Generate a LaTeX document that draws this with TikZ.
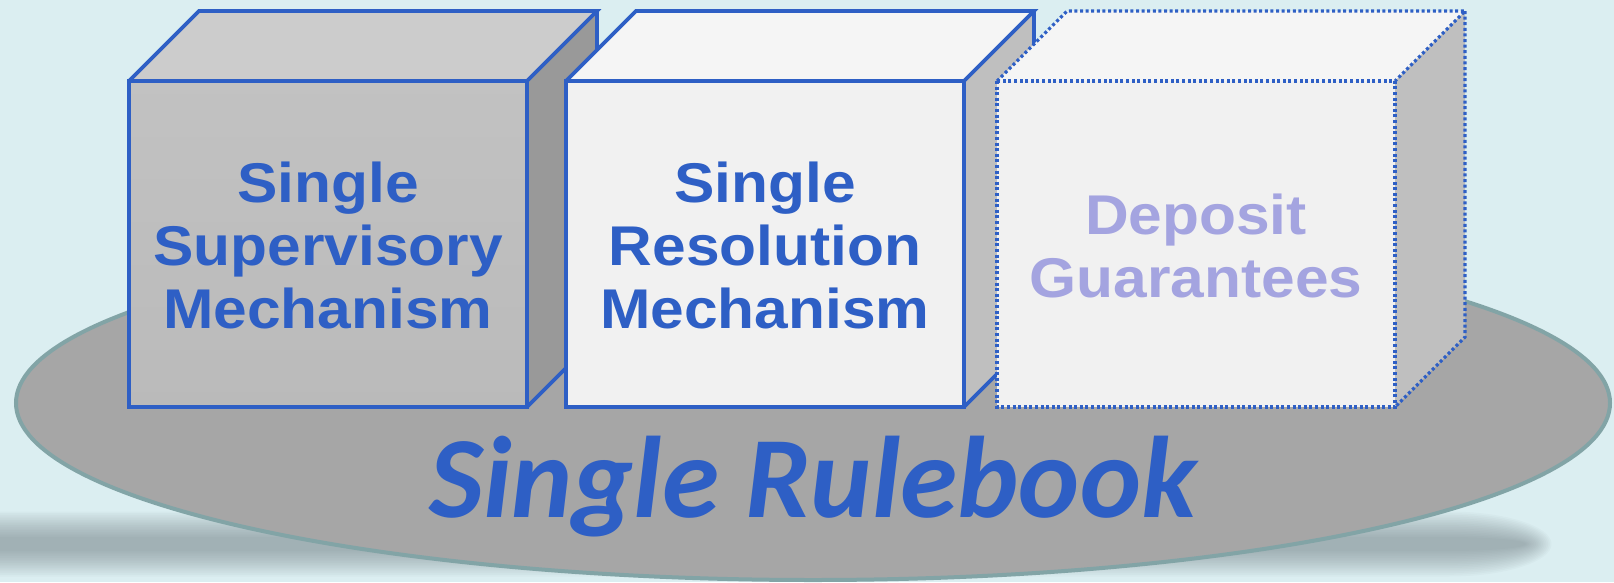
\documentclass[tikz,border=0pt]{standalone}
\usepackage{fontspec}
\newfontfamily\boxfont[FakeStretch=1.08]{Liberation Sans}
\newfontfamily\rulefont{Carlito}
\definecolor{bgc}{HTML}{DBEEF1}
\definecolor{ellfill}{HTML}{A6A6A6}
\definecolor{ellborder}{HTML}{82A4A6}
\definecolor{shadowc}{HTML}{6E7A80}
\definecolor{bluec}{HTML}{2E5FC5}
\definecolor{lavc}{HTML}{A4A4E0}
\newcommand\cubeAt[5]{%
  \path[#2] (#1,81) rectangle (#1+398,407);
  \path[fill=#3] (#1,81) -- (#1+70,11) -- (#1+468,11) -- (#1+398,81) -- cycle;
  \path[fill=#4] (#1+398,81) -- (#1+468,11) -- (#1+468,337) -- (#1+398,407) -- cycle;
  \draw[#5] (#1,81) rectangle (#1+398,407);
  \draw[#5] (#1,81) -- (#1+70,11) -- (#1+468,11) -- (#1+398,81);
  \draw[#5] (#1+468,11) -- (#1+468,337) -- (#1+398,407);
}
\tikzset{
  edgesolid/.style={draw=bluec, line width=3.6pt, line join=miter},
  edgedotted/.style={draw=bluec, line width=3.2pt, dash pattern=on 3pt off 2.6pt, line join=miter},
  boxtext/.style={font=\boxfont\bfseries\fontsize{56}{63}\selectfont, align=center, inner sep=0pt, text=bluec},
}
\begin{document}
\begin{tikzpicture}[x=1pt,y=-1pt]
\useasboundingbox (0,0) rectangle (1614,582);
\fill[bgc] (0,0) rectangle (1614,582);
% shadow (soft capsule)
\foreach \k in {0,...,15}{
  \fill[shadowc, opacity=0.04]
    (-60,{544-7-1.7*\k}) -- (1448,{544-7-1.7*\k})
    arc[start angle=-90, end angle=90, x radius={78+1.7*\k}, y radius={7+1.7*\k}]
    -- (-60,{544+7+1.7*\k}) -- cycle;
}
% platform
\draw[line width=4pt, draw=ellborder, fill=ellfill] (813,403) ellipse [x radius=797, y radius=177];
% cubes
\cubeAt{129}{top color=black!24, bottom color=black!27}{black!20}{black!40}{edgesolid}
\cubeAt{566}{fill=black!5.5}{black!4}{black!25}{edgesolid}
\cubeAt{997}{fill=black!5.5}{black!4}{black!25}{edgedotted}
\node[boxtext] (ssm) at (328,245.5) {Single\\Supervisory\\Mechanism};
\node[boxtext] (srm) at (765,245.5) {Single\\Resolution\\Mechanism};
\node[boxtext, text=lavc] (dg) at (1196,245.5) {Deposit\\Guarantees};
\node[font=\rulefont\bfseries\itshape\fontsize{116}{120}\selectfont, text=bluec, anchor=base, inner sep=0pt] (rb) at (813,517) {Single Rulebook};
\end{tikzpicture}
\end{document}
